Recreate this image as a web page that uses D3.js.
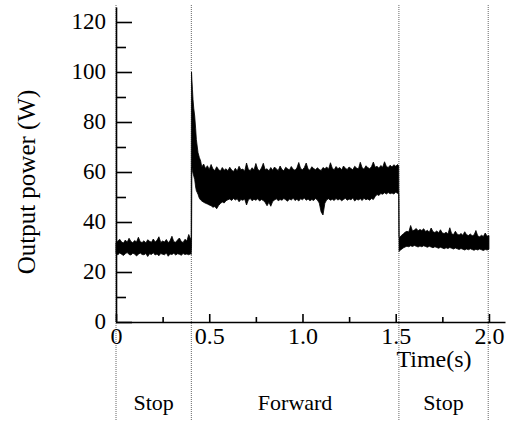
<!DOCTYPE html>
<meta charset="utf-8">
<style>
body { margin: 0; background: #fff; }
svg text { font-family: "Liberation Serif", "Times New Roman", serif; fill: #000; }
.axis path, .axis line { stroke: #000; stroke-width: 1.6; }
</style>
<svg width="514" height="423"></svg>
<script src="https://cdn.jsdelivr.net/npm/d3@7"></script>
<script>
// sampled envelope (upper / lower) of the noisy power trace, step 0.01 s
var step = 0.01;

// Stop, 0.00 .. 0.40 s
var stop1Start = 0;
var stop1Hi = [31.8, 32.4, 33.1, 32.0, 31.6, 32.8, 31.9, 33.5, 32.2, 31.7, 32.6, 32.0, 33.9, 32.1, 31.8,
  32.5, 31.6, 32.9, 32.3, 31.9, 33.2, 32.0, 32.7, 34.1, 31.8, 32.4, 32.0, 33.0, 31.7, 32.6,
  34.3, 32.1, 31.9, 32.8, 33.6, 32.2, 31.8, 33.1, 32.4, 35.0, 33.2];
var stop1Lo = [27.4, 26.9, 27.6, 27.1, 26.6, 27.3, 27.8, 27.0, 26.8, 27.5, 27.2, 26.4, 27.1, 27.6, 27.0,
  26.9, 27.4, 26.2, 27.3, 27.0, 27.7, 26.8, 27.2, 26.5, 27.4, 27.1, 26.9, 27.6, 26.3, 27.2,
  27.0, 27.5, 26.8, 27.3, 27.1, 26.7, 27.4, 27.0, 27.2, 26.9, 27.3];

// start-up transient
var riseT  = [0.403, 0.405, 0.407, 0.410, 0.413, 0.417, 0.422, 0.427, 0.431, 0.436, 0.440, 0.447, 0.454];
var riseHi = [33.0, 100, 97.0, 93.0, 89.0, 85.5, 82.4, 77.5, 73.0, 70.0, 67.7, 65.8, 64.4];
var riseLo = [27.0, 30.0, 62.0, 60.5, 59.5, 58.4, 57.0, 54.0, 52.5, 51.7, 51.0, 49.5, 48.8];

// Forward, 0.46 .. 1.51 s
var fwdStart = 0.46;
var fwdHi = [62.0, 63.2, 61.4, 62.5, 61.0, 63.0, 61.2, 60.6, 62.1, 61.0, 60.4, 61.8, 60.7, 61.3, 60.5,
  61.9, 60.8, 60.2, 61.5, 60.4, 62.3, 60.9, 61.2, 60.3, 63.6, 61.0, 60.6, 61.7, 60.8, 63.4,
  61.1, 60.5, 61.6, 63.5, 60.9, 61.3, 60.4, 61.8, 60.7, 62.0, 61.2, 60.6, 62.4, 61.0, 60.5,
  61.9, 61.3, 60.8, 62.2, 61.1, 60.7, 61.6, 63.8, 61.4, 60.9, 61.8, 63.6, 61.2, 60.7, 62.1,
  61.4, 60.9, 61.7, 61.0, 60.6, 61.8, 61.3, 62.0, 61.1, 63.7, 61.5, 60.9, 62.2, 61.3, 61.8,
  60.8, 62.4, 61.5, 61.0, 62.0, 61.4, 60.9, 62.3, 61.6, 61.2, 63.9, 61.7, 61.1, 62.5, 61.8,
  61.3, 62.1, 64.0, 61.9, 62.3, 61.5, 62.6, 61.9, 64.1, 62.2, 61.8, 62.7, 62.0, 62.9, 62.3, 63.0];
var fwdLo = [48.4, 47.9, 47.5, 47.2, 46.8, 46.5, 45.9, 46.2, 45.3, 46.6, 47.4, 48.0, 47.6, 48.5, 48.9,
  49.2, 48.6, 49.4, 48.8, 49.3, 48.1, 49.0, 48.7, 49.2, 46.8, 48.9, 49.4, 48.5, 49.1, 48.7,
  49.3, 48.4, 49.0, 48.6, 47.8, 46.5, 47.9, 46.3, 48.2, 48.8, 49.3, 48.5, 49.0, 48.7, 49.4,
  48.9, 48.3, 49.2, 48.8, 49.5, 48.6, 49.1, 48.4, 49.3, 48.9, 49.6, 48.7, 49.2, 48.5, 49.0,
  48.6, 49.4, 48.8, 47.6, 44.0, 42.8, 47.5, 48.9, 49.3, 48.7, 49.1, 48.6, 49.4, 48.8, 49.2,
  48.5, 49.0, 49.5, 48.7, 49.2, 48.9, 49.6, 48.4, 49.1, 48.8, 49.3, 48.6, 49.5, 48.9, 49.2,
  48.7, 49.4, 49.0, 50.2, 51.0, 50.6, 51.4, 51.1, 51.7, 51.2, 51.8, 51.3, 51.6, 51.2, 51.9, 51.5];

// stop transient
var dropT  = [1.516, 1.518];
var dropHi = [62.5, 34.0];
var dropLo = [51.0, 28.2];

// Stop, 1.52 .. 2.00 s
var stop2Start = 1.52;
var stop2Hi = [33.8, 34.6, 35.2, 35.9, 36.3, 36.0, 38.6, 36.4, 36.8, 37.4, 36.5, 37.0, 36.6, 37.3, 36.2,
  36.7, 35.9, 37.6, 36.1, 35.8, 36.4, 35.7, 36.9, 35.6, 35.4, 35.9, 35.2, 37.7, 35.3, 35.0,
  36.3, 35.1, 34.8, 35.4, 34.7, 36.1, 34.9, 34.6, 35.2, 34.5, 34.8, 36.6, 34.4, 34.1, 34.7,
  34.2, 35.6, 34.3, 34.6];
var stop2Lo = [28.5, 29.0, 29.6, 30.0, 30.3, 30.1, 30.5, 30.2, 30.6, 30.3, 30.0, 30.4, 30.1, 30.5, 30.2,
  29.9, 30.3, 30.0, 29.7, 30.1, 29.8, 29.5, 29.9, 29.6, 29.3, 29.7, 29.4, 29.8, 29.5, 29.2,
  29.6, 29.3, 29.0, 29.4, 29.1, 28.8, 29.2, 28.9, 29.3, 29.0, 28.7, 29.1, 28.8, 29.2, 28.9,
  28.6, 29.0, 28.8, 29.1];

// phases
var phaseBounds = [0, 0.404, 1.517, 1.996];
var phaseNames = ["Stop", "Forward", "Stop"];

var yMajor = [0, 20, 40, 60, 80, 100, 120];
var yMinor = [10, 30, 50, 70, 90, 110];
var xMajor = [0, 0.5, 1.0, 1.5, 2.0];
var xMinor = [0.25, 0.75, 1.25, 1.75];

var svg = d3.select("svg");

var x = d3.scaleLinear().domain([0, 2.086]).range([116, 505]);
var y = d3.scaleLinear().domain([0, 126]).range([322, 7]);

// assemble samples
function seg(start, hi, lo) {
  return hi.map(function(h, i) { return {t: start + i * step, hi: h, lo: lo[i]}; });
}
function pts(ts, hi, lo) {
  return ts.map(function(t, i) { return {t: t, hi: hi[i], lo: lo[i]}; });
}
var data = [].concat(
  seg(stop1Start, stop1Hi, stop1Lo),
  pts(riseT, riseHi, riseLo),
  seg(fwdStart, fwdHi, fwdLo),
  pts(dropT, dropHi, dropLo),
  seg(stop2Start, stop2Hi, stop2Lo)
);

// dotted phase separators
svg.append("g")
  .selectAll("line")
  .data(phaseBounds)
  .enter().append("line")
    .attr("x1", function(d) { return x(d); })
    .attr("x2", function(d) { return x(d); })
    .attr("y1", 5)
    .attr("y2", 421)
    .attr("stroke", "#666")
    .attr("stroke-width", 1)
    .attr("stroke-dasharray", "1,1");

// signal band
var area = d3.area()
  .x(function(d) { return x(d.t); })
  .y0(function(d) { return y(d.lo); })
  .y1(function(d) { return y(d.hi); });

svg.append("path")
  .datum(data)
  .attr("d", area)
  .attr("fill", "#000")
  .attr("stroke", "#000")
  .attr("stroke-width", 0.8)
  .attr("stroke-linejoin", "miter");

// y axis
svg.append("g")
  .attr("class", "axis")
  .attr("transform", "translate(116,0)")
  .call(d3.axisLeft(y).tickValues(yMajor).tickSize(-16).tickSizeOuter(0).tickPadding(10))
  .call(function(g) { g.selectAll("text").attr("font-size", 23).attr("dy", "0.3em"); });

svg.append("g")
  .attr("class", "axis")
  .attr("transform", "translate(116,0)")
  .call(d3.axisLeft(y).tickValues(yMinor).tickSize(-10).tickFormat(""))
  .call(function(g) { g.select(".domain").remove(); });

// x axis
svg.append("g")
  .attr("class", "axis")
  .attr("transform", "translate(0,322)")
  .call(d3.axisBottom(x).tickValues(xMajor).tickSize(-8).tickSizeOuter(0)
    .tickFormat(function(d) { return d === 0 ? "0" : d3.format(".1f")(d); }))
  .call(function(g) { g.selectAll("text").attr("font-size", 24).attr("y", 22).attr("dy", 0); });

svg.append("g")
  .attr("class", "axis")
  .attr("transform", "translate(0,322)")
  .call(d3.axisBottom(x).tickValues(xMinor).tickSize(-5).tickFormat(""))
  .call(function(g) { g.select(".domain").remove(); });

svg.selectAll(".axis text").attr("font-family", "Liberation Serif, Times New Roman, serif").attr("fill", "#000");

// labels
svg.append("text")
  .attr("x", 434)
  .attr("y", 367)
  .attr("text-anchor", "middle")
  .attr("font-size", 24)
  .text("Time(s)");

svg.append("text")
  .attr("transform", "translate(35,182) rotate(-90)")
  .attr("text-anchor", "middle")
  .attr("font-size", 25)
  .text("Output power (W)");

svg.append("g")
  .selectAll("text")
  .data(phaseNames)
  .enter().append("text")
    .attr("x", function(d, i) { return x((phaseBounds[i] + phaseBounds[i + 1]) / 2); })
    .attr("y", 410)
    .attr("text-anchor", "middle")
    .attr("font-size", 22)
    .text(function(d) { return d; });
</script>
